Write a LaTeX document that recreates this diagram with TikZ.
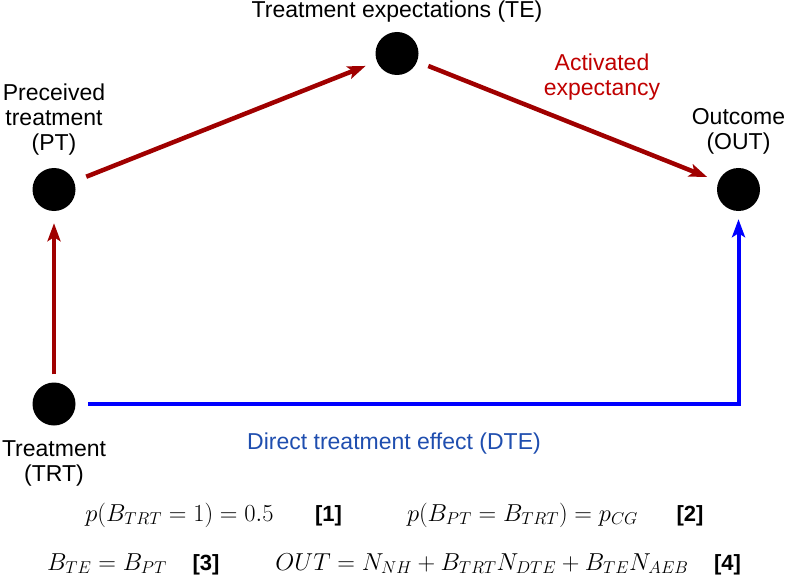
\RequirePackage{fix-cm}
\documentclass[tikz,border=0pt]{standalone}
\usepackage{amsmath}
\usepackage[no-math]{fontspec}
\setmainfont{Liberation Sans}
\usetikzlibrary{positioning,arrows.meta}

\definecolor{arrowred}{HTML}{A00000}
\definecolor{textred}{HTML}{C00000}
\definecolor{linkblue}{HTML}{0000FF}
\definecolor{textblue}{HTML}{1F4EAF}

\begin{document}
\begin{tikzpicture}[x=1pt,y=-1pt,
    state/.style={circle,fill=black,minimum size=43pt,inner sep=0pt},
    lbl/.style={align=center,inner sep=0pt,font=\fontsize{23}{25}\selectfont},
    link/.style={line width=4.5pt,-{Stealth[length=18pt,width=13pt,inset=4pt]}},
    eqn/.style={inner sep=0pt,anchor=base,font=\fontsize{24.5}{26}\selectfont},
    tag/.style={inner sep=0pt,anchor=base,font=\fontsize{22}{24}\selectfont\bfseries}]

        \useasboundingbox (0,0) rectangle (786,588);

        \begin{scope}[every node/.style={state}]
          \node (TE)  at (397,53.5)  {};
          \node (PT)  at (54,189.5)  {};
          \node (OUT) at (738.5,189.5) {};
          \node (TRT) at (54,404)    {};
        \end{scope}

        \begin{scope}[every node/.style={lbl}]
          \node[above=9pt of TE]   (TElbl)  {Treatment expectations (TE)};
          \node[above=12pt of PT]  (PTlbl)  {Preceived\\treatment\\(PT)};
          \node[above=13pt of OUT] (OUTlbl) {Outcome\\(OUT)};
          \node[below=15pt of TRT] (TRTlbl) {Treatment\\(TRT)};
          \node[textred] (AElbl) at (602,77) {Activated\\expectancy};
          \node[textblue,anchor=base] (DTElbl) at (394,449) {Direct treatment effect (DTE)};
        \end{scope}

        \begin{scope}[every edge/.style={draw,link,arrowred}]
          \path (TRT) edge[shorten <=8pt,shorten >=12pt] (PT);
          \path (PT)  edge[shorten <=13pt,shorten >=12pt] (TE);
          \path (TE)  edge[shorten <=12pt,shorten >=12pt] (OUT);
        \end{scope}
        \draw[link,linkblue,line width=4pt,shorten <=12.5pt,shorten >=8pt] (TRT) -| (OUT);

        \begin{scope}[every node/.style={eqn}]
          \node (eq1) at (179.5,521) {$p(B_{TRT}=1)=0.5$};
          \node (eq2) at (522.5,521) {$p(B_{PT}=B_{TRT})=p_{CG}$};
          \node (eq3) at (107,570)   {$B_{TE}=B_{PT}$};
          \node (eq4) at (482,570)   {$OUT=N_{NH}+B_{TRT}N_{DTE}+B_{TE}N_{AEB}$};
        \end{scope}

        \begin{scope}[every node/.style={tag}]
          \node (tag1) at (328.5,521) {[1]};
          \node (tag2) at (690,521)   {[2]};
          \node (tag3) at (206,570)   {[3]};
          \node (tag4) at (727.5,570) {[4]};
        \end{scope}

      \end{tikzpicture}
\end{document}
